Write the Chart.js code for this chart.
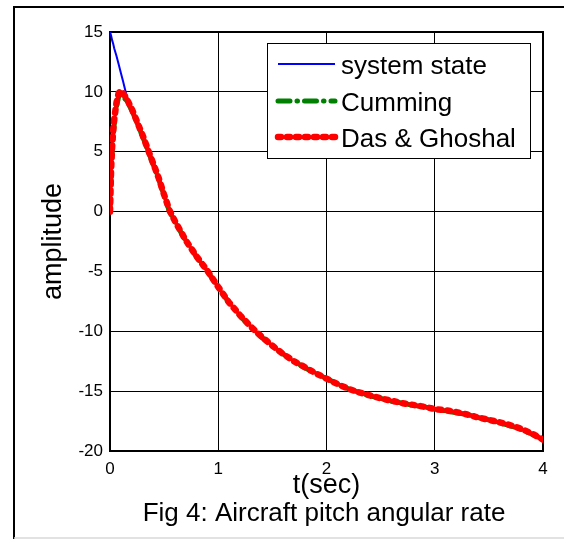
<!DOCTYPE html>
<html>
<head>
<meta charset="utf-8">
<script src="https://cdn.jsdelivr.net/npm/chart.js@4/dist/chart.umd.min.js"></script>
<style>
  body { margin: 0; background: #fff; }
  canvas { display: block; }
</style>
</head>
<body>
<canvas id="pitchChart" width="564" height="539"></canvas>
<script>
// time axis (sec)
const tValues = [0, 0.01, 0.02, 0.03, 0.04, 0.06, 0.08, 0.1, 0.12, 0.15, 0.2, 0.25, 0.3, 0.35, 0.4, 0.45, 0.5, 0.55, 0.6,
  0.7, 0.8, 0.9, 1.0, 1.1, 1.2, 1.3, 1.4, 1.5, 1.6, 1.7, 1.8, 1.9, 2.0, 2.1, 2.2, 2.3, 2.4, 2.5, 2.6, 2.7, 2.8, 2.9,
  3.0, 3.1, 3.2, 3.3, 3.4, 3.5, 3.6, 3.7, 3.8, 3.9, 4.0];

const systemState = [15, 14.7, 14.3, 14.0, 13.6, 13.0, 12.3, 11.6, 10.9, 9.8, 8.6, 7.5, 6.4, 5.2, 4.0, 2.8, 1.4, 0.1, -0.8,
  -2.4, -3.75, -4.95, -6.3, -7.6, -8.65, -9.6, -10.45, -11.2, -11.9, -12.5, -13.0, -13.5, -13.95, -14.4, -14.8, -15.1, -15.35, -15.6, -15.8, -16.0, -16.15, -16.3,
  -16.5, -16.6, -16.75, -16.95, -17.2, -17.4, -17.6, -17.85, -18.15, -18.55, -19.05];

const cumming = [0, 3.0, 5.0, 6.4, 7.4, 8.8, 9.6, 9.8, 9.6, 9.3, 8.5, 7.4, 6.3, 5.1, 3.9, 2.7, 1.3, 0.0, -0.85,
  -2.45, -3.8, -5.0, -6.35, -7.6, -8.7, -9.65, -10.5, -11.25, -11.9, -12.5, -13.05, -13.5, -13.95, -14.4, -14.8, -15.1, -15.4, -15.6, -15.85, -16.0, -16.2, -16.3,
  -16.5, -16.65, -16.8, -16.95, -17.2, -17.4, -17.65, -17.9, -18.2, -18.6, -19.05];

const dasGhoshal = [0, 3.5, 5.5, 6.8, 7.8, 9.1, 9.9, 10.1, 9.9, 9.5, 8.6, 7.5, 6.4, 5.2, 4.0, 2.8, 1.4, 0.1, -0.8,
  -2.4, -3.75, -4.95, -6.3, -7.6, -8.65, -9.6, -10.45, -11.2, -11.9, -12.5, -13.0, -13.5, -13.95, -14.4, -14.8, -15.1, -15.35, -15.6, -15.8, -16.0, -16.15, -16.3,
  -16.5, -16.6, -16.75, -16.95, -17.2, -17.4, -17.6, -17.85, -18.15, -18.55, -19.05];

const xTicks = [0, 1, 2, 3, 4];
const yTicks = [-20, -15, -10, -5, 0, 5, 10, 15];

const FONT = '"Liberation Sans", Arial, sans-serif';

function toPoints(values) {
  return tValues.map((t, i) => ({ x: t, y: values[i] }));
}

// frame, plot box, axis titles, caption
const decorations = {
  id: 'decorations',
  beforeDraw(chart) {
    const ctx = chart.ctx;
    ctx.save();
    ctx.fillStyle = '#fff';
    ctx.fillRect(0, 0, chart.width, chart.height);
    ctx.strokeStyle = '#000';
    ctx.lineWidth = 2;
    ctx.beginPath();
    ctx.moveTo(564, 7);
    ctx.lineTo(14, 7);
    ctx.lineTo(14, 539);
    ctx.stroke();
    ctx.strokeStyle = '#d8d8d8';
    ctx.lineWidth = 1.5;
    ctx.beginPath();
    ctx.moveTo(14, 538);
    ctx.lineTo(564, 538);
    ctx.stroke();
    ctx.restore();
  },
  beforeDatasetsDraw(chart) {
    const { ctx, chartArea: a } = chart;
    ctx.save();
    ctx.strokeStyle = '#000';
    ctx.lineWidth = 2;
    ctx.strokeRect(a.left, a.top, a.right - a.left, a.bottom - a.top);
    ctx.restore();
  },
  afterDraw(chart) {
    const { ctx, chartArea: a } = chart;
    ctx.save();
    ctx.fillStyle = '#000';
    ctx.textAlign = 'center';
    ctx.textBaseline = 'middle';

    ctx.font = '27px ' + FONT;
    ctx.fillText('t(sec)', (a.left + a.right) / 2, 486);

    ctx.font = '26px ' + FONT;
    ctx.fillText('Fig 4: Aircraft pitch angular rate', 324, 514);

    ctx.save();
    ctx.translate(54, (a.top + a.bottom) / 2);
    ctx.rotate(-Math.PI / 2);
    ctx.font = '27px ' + FONT;
    ctx.fillText('amplitude', 0, 0);
    ctx.restore();

    // legend box
    const box = { x: 267, y: 43, w: 263, h: 115 };
    ctx.fillStyle = '#fff';
    ctx.fillRect(box.x, box.y, box.w, box.h);
    ctx.strokeStyle = '#000';
    ctx.lineWidth = 1;
    ctx.strokeRect(box.x + 0.5, box.y + 0.5, box.w, box.h);

    const rows = [64, 101, 137];
    chart.data.datasets.forEach((ds, i) => {
      const y = rows[i];
      ctx.save();
      ctx.strokeStyle = ds.borderColor;
      ctx.lineWidth = ds.borderWidth;
      ctx.lineCap = ds.borderCapStyle || 'butt';
      ctx.setLineDash(ds.borderDash || []);
      ctx.beginPath();
      ctx.moveTo(278, y);
      ctx.lineTo(335, y);
      ctx.stroke();
      ctx.restore();
      ctx.fillStyle = '#000';
      ctx.textAlign = 'left';
      ctx.font = '26px ' + FONT;
      ctx.fillText(ds.label, 341, y + 3);
    });
    ctx.restore();
  }
};

new Chart(document.getElementById('pitchChart'), {
  type: 'line',
  data: {
    datasets: [
      {
        label: 'system state',
        data: toPoints(systemState),
        borderColor: '#0000ff',
        borderWidth: 2,
        pointRadius: 0,
        tension: 0,
        order: 3
      },
      {
        label: 'Cumming',
        data: toPoints(cumming),
        borderColor: '#008000',
        borderWidth: 5,
        borderDash: [12, 7, 0.5, 7],
        borderCapStyle: 'round',
        pointRadius: 0,
        tension: 0,
        order: 2
      },
      {
        label: 'Das & Ghoshal',
        data: toPoints(dasGhoshal),
        borderColor: '#ff0000',
        borderWidth: 6.5,
        borderDash: [3, 6],
        borderCapStyle: 'round',
        pointRadius: 0,
        tension: 0,
        order: 1
      }
    ]
  },
  options: {
    responsive: false,
    animation: false,
    devicePixelRatio: 1,
    layout: { padding: { top: 32, right: 21, left: 0, bottom: 0 } },
    plugins: {
      legend: { display: false },
      tooltip: { enabled: false }
    },
    scales: {
      x: {
        type: 'linear',
        min: 0,
        max: 4,
        afterBuildTicks: (scale) => { scale.ticks = xTicks.map(v => ({ value: v })); },
        afterFit: (scale) => { scale.height = 88; },
        ticks: { color: '#000', font: { family: FONT, size: 17 }, padding: 8, maxRotation: 0 },
        grid: { color: '#000', lineWidth: 1, drawTicks: false },
        border: { color: '#000', width: 2 }
      },
      y: {
        type: 'linear',
        min: -20,
        max: 15,
        afterBuildTicks: (scale) => { scale.ticks = yTicks.map(v => ({ value: v })); },
        afterFit: (scale) => { scale.width = 110; },
        ticks: { color: '#000', font: { family: FONT, size: 17 }, padding: 7 },
        grid: { color: '#000', lineWidth: 1, drawTicks: false },
        border: { color: '#000', width: 2 }
      }
    }
  },
  plugins: [decorations]
});
</script>
</body>
</html>
